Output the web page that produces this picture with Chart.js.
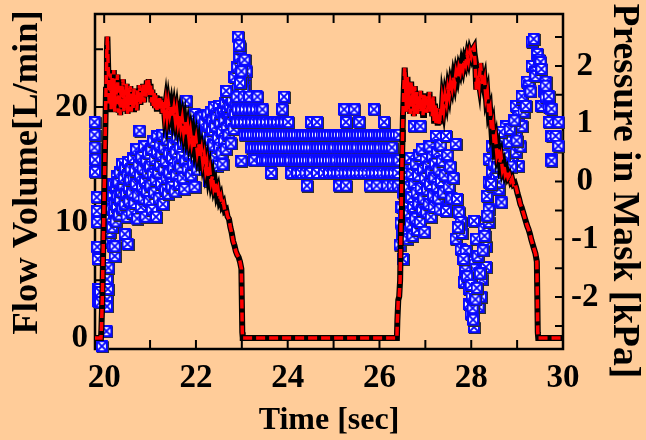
<!DOCTYPE html>
<html>
<head>
<meta charset="utf-8">
<script src="https://cdn.jsdelivr.net/npm/chart.js@4.4.1/dist/chart.umd.min.js"></script>
<style>
  html, body { margin: 0; padding: 0; background: #FFCC99; }
  canvas { display: block; }
</style>
</head>
<body>
<canvas id="chart" width="646" height="440"></canvas>
<script>
// flow volume trace [time s, L/min]
const flowSamples = [
  [19.80,0],[19.93,0],[19.94,0.8],[19.96,3.5],[19.98,8],[20.00,12.5],[20.02,17],[20.04,21.5],[20.06,25],[20.07,26.1],
  [20.09,23],[20.11,20.2],[20.13,22.9],[20.15,19.8],[20.17,22.5],[20.19,20.1],[20.21,23.2],[20.23,19.6],[20.25,22.1],[20.27,20.4],
  [20.29,22.8],[20.31,19.5],[20.33,21.7],[20.35,19.3],[20.37,21.9],[20.39,20.2],[20.41,22.4],[20.43,19.6],[20.45,21.5],[20.47,19.9],
  [20.49,22],[20.51,19.4],[20.53,21.3],[20.55,20],[20.57,21.8],[20.59,19.6],[20.61,21.1],[20.63,19.8],[20.65,21.6],[20.67,20.1],
  [20.69,21.2],[20.71,19.7],[20.73,21.5],[20.75,20.3],[20.77,21.9],[20.79,20.2],[20.81,21.4],[20.83,20.5],[20.85,22],[20.87,20.4],
  [20.89,21.8],[20.91,20.9],[20.93,22.3],[20.95,21.2],[20.97,22.4],[20.99,21],[21.01,22],[21.03,20.4],[21.05,21.5],[21.07,20.1],
  [21.09,21.2],[21.11,19.9],[21.13,21],[21.15,19.6],[21.17,20.8],[21.19,19.8],[21.21,20.9],[21.23,19.7],[21.25,20.6],[21.27,19.4],
  [21.29,20.5],[21.31,19.5],[21.34,20.4],[21.37,19.2],[21.40,20.3],[21.43,19.4],[21.46,20.1],[21.49,19.1],[21.52,19.9],[21.55,18.9],
  [21.58,19.7],[21.61,18.6],[21.64,19.3],[21.67,18.3],[21.70,19],[21.73,17.9],[21.76,18.7],[21.79,17.6],[21.82,18.3],[21.85,17.2],
  [21.88,17.9],[21.91,16.9],[21.94,17.6],[21.97,16.5],[22.00,17.2],[22.03,16.1],[22.06,16.8],[22.09,15.7],[22.12,16.3],[22.15,15.2],
  [22.18,15.8],[22.21,14.6],[22.24,15.2],[22.27,14],[22.30,14.6],[22.33,13.5],[22.36,14],[22.39,13],[22.42,13.4],[22.45,12.5],
  [22.48,12.9],[22.51,12],[22.54,12.3],[22.57,11.5],[22.60,11.7],[22.63,11],[22.66,11.1],[22.69,10.5],[22.72,10.3],[22.75,9.6],
  [22.78,9.1],[22.81,8.4],[22.84,8],[22.87,7.5],[22.90,7.2],[22.93,7],[22.96,6.6],[22.99,6],[23.01,0.5],[23.02,0],
  [26.38,0],[26.39,1.5],[26.41,3.3],[26.43,3.6],[26.45,5],[26.47,10],[26.49,15],[26.51,19],[26.53,21.5],[26.55,23.4],
  [26.57,21.8],[26.59,19.6],[26.61,22.6],[26.63,19.8],[26.65,21.9],[26.67,19.4],[26.69,22.2],[26.71,20],[26.73,21.5],[26.75,19.2],
  [26.77,21.8],[26.79,19.7],[26.81,21.3],[26.83,19.4],[26.85,20.9],[26.87,19.8],[26.89,21.4],[26.91,19.6],[26.93,20.8],[26.95,19.3],
  [26.97,21.2],[26.99,19.9],[27.01,21],[27.03,19.5],[27.05,20.7],[27.07,19.8],[27.09,21.3],[27.11,19.6],[27.13,20.6],[27.15,19.2],
  [27.17,20.9],[27.19,18.8],[27.21,20.3],[27.23,18.6],[27.25,19.9],[27.27,18.4],[27.29,19.5],[27.31,18.5],[27.33,19.9],[27.35,19.3],
  [27.37,20.6],[27.40,19.8],[27.43,21],[27.46,20.4],[27.49,21.6],[27.52,21],[27.55,22.1],[27.58,21.6],[27.61,22.6],[27.64,22],
  [27.67,23],[27.70,22.5],[27.73,23.4],[27.76,23],[27.79,23.8],[27.82,23.3],[27.85,24.1],[27.88,23.7],[27.91,24.5],[27.94,24],
  [27.97,24.8],[28.00,24.4],[28.03,25],[28.06,25.2],[28.09,23.5],[28.11,21.5],[28.14,22.8],[28.17,22],[28.20,23.8],[28.23,22.5],
  [28.26,21.9],[28.29,22.4],[28.32,20.8],[28.35,21.3],[28.38,19.5],[28.41,19.9],[28.44,18],[28.47,18.5],[28.50,16.8],[28.53,17.3],
  [28.56,15.9],[28.59,16.4],[28.62,15.2],[28.65,15.7],[28.68,14.6],[28.71,15],[28.74,14.2],[28.77,14.5],[28.80,13.9],[28.83,14.1],
  [28.86,13.6],[28.89,13.8],[28.92,13.3],[28.95,13.4],[28.98,13],[29.01,12.5],[29.04,12.1],[29.07,11.6],[29.10,11.3],[29.13,10.9],
  [29.16,10.5],[29.19,10.1],[29.22,9.7],[29.25,9.4],[29.28,9],[29.31,8.5],[29.34,8.1],[29.37,7.7],[29.40,7.3],[29.43,6.6],
  [29.45,0.5],[29.46,0],[30.00,0]
];

// mask pressure samples [time s, kPa]
const startColumn = [
  [19.80,1.02],[19.80,0.80],[19.80,0.58],[19.81,0.37],[19.81,0.16],[19.85,-0.28],[19.85,-0.52],[19.86,-0.71],
  [19.86,-1.14],[19.87,-1.35],[19.88,-1.87],[19.88,-2.08],[19.92,-1.92],[19.92,-2.10],[19.96,-2.86],[20.05,-1.45],
  [20.06,-2.60],[20.07,-1.70],[20.07,-2.05],[20.07,-2.17],[20.09,-1.87],[20.10,-1.50],[20.12,-1.05],[20.13,-0.88],
  [20.20,-1.13],[20.24,-1.30],[20.46,-0.92],[20.52,-1.09],[20.24,-1.13]
];
const riseCloud = [
  [20.12,-0.35],[20.14,-0.62],[20.15,-0.15],[20.17,-0.48],[20.18,-0.80],[20.20,-0.25],[20.21,-0.05],[20.23,-0.55],
  [20.24,-0.38],[20.26,-0.70],[20.27,-0.12],[20.28,0.08],[20.29,-0.45],[20.30,-0.26],[20.32,-0.02],[20.33,-0.58],
  [20.35,0.15],[20.36,-0.33],[20.38,-0.18],[20.40,0.30],[20.41,-0.48],[20.43,-0.08],[20.44,0.05],[20.46,-0.40],
  [20.47,0.22],[20.49,-0.22],[20.50,-0.62],[20.52,0.10],[20.53,0.33],[20.55,-0.12],[20.56,-0.35],[20.58,0.02],
  [20.59,0.20],[20.61,-0.55],[20.62,-0.20],[20.64,0.40],[20.65,0.05],[20.67,-0.38],[20.68,0.18],[20.70,-0.05],
  [20.71,0.55],[20.73,-0.65],[20.74,-0.25],[20.76,0.28],[20.78,0.87],[20.79,0.10],[20.81,-0.45],[20.82,0.42],
  [20.84,-0.10],[20.85,0.22],[20.87,-0.30],[20.88,0.60],[20.90,0.00],[20.91,-0.62],[20.93,0.35],[20.94,-0.18],
  [20.96,0.15],[20.97,0.48],[20.99,-0.35],[21.01,0.25],[21.02,-0.08],[21.04,0.55],[21.05,-0.50],[21.07,0.12],
  [21.08,0.70],[21.10,-0.20],[21.11,0.38],[21.13,0.02],[21.14,-0.62],[21.16,0.50],[21.17,0.78],[21.19,0.15],
  [21.20,-0.30],[21.22,0.62],[21.23,0.28],[21.25,-0.05],[21.26,0.45],[21.28,0.80],[21.29,-0.40],[21.31,0.20],
  [21.32,0.58],[21.34,-0.15],[21.35,0.35],[21.37,0.05],[21.38,0.72],[21.40,-0.22],[21.42,0.48],[21.43,0.15],
  [21.45,0.85],[21.46,-0.05],[21.48,-0.10],[21.49,0.40],[21.51,0.62],[21.52,0.22],[21.54,0.92],[21.55,-0.18],
  [21.57,0.50],[21.58,0.10],[21.60,0.75],[21.61,0.32],[21.63,0.95],[21.64,-0.05],[21.66,0.58],[21.67,0.25],
  [21.69,0.82],[21.70,0.42],[21.72,0.05],[21.73,0.65],[21.75,0.90],[21.76,-0.14],[21.78,0.35],[21.80,1.39],
  [21.81,0.60],[21.83,0.20],[21.84,0.85],[21.86,1.02],[21.87,0.45],[21.89,0.70],[21.90,0.10],[21.92,0.95],
  [21.93,0.55],[21.95,0.30],[21.96,0.80],[21.98,1.16],[21.98,-0.10],[22.00,0.65],[22.01,0.40],[22.03,0.98],
  [22.04,0.20],[22.06,0.75],[22.07,1.05],[22.09,0.52],[22.10,0.85],[22.12,0.30],[22.13,1.10],[22.15,0.68],
  [22.16,0.45],[22.18,0.92],[22.20,1.02],[22.21,0.60],[22.23,0.35],[22.24,0.82],[22.26,1.15],[22.27,0.55],
  [22.29,0.95],[22.30,0.00],[22.31,0.72],[22.33,1.20],[22.34,0.45],[22.36,0.88],[22.37,1.05],[22.39,0.62],
  [22.40,1.28],[22.42,0.40],[22.43,0.95],[22.45,1.12],[22.46,1.10],[22.48,0.26],[22.49,0.75],[22.51,1.30],
  [22.52,0.58],[22.54,1.00],[22.55,1.18],[22.57,0.48],[22.58,0.85],[22.59,0.29],[22.60,1.25],[22.62,0.70],
  [22.63,1.05],[22.65,1.35],[22.66,0.55],[22.68,0.92],[22.69,1.20],[22.71,1.45],[22.72,0.80],[22.74,1.10],
  [22.75,1.30],[22.77,0.65],[22.78,1.02],[22.80,1.40],[22.81,1.22],[22.83,0.90],[22.84,1.55],[22.86,1.15],
  [22.88,1.35],[22.90,1.02],[22.92,1.62],[22.95,1.25],[22.98,1.50],[23.00,0.35]
];
const endSpike = [
  [22.67,1.56],[22.85,1.80],[22.91,1.98],[22.93,2.50],[22.96,2.15],[22.98,2.30],[23.03,2.02],[23.07,2.10],
  [23.07,1.68],[23.09,1.85],[23.11,1.90],[23.11,1.02],[23.17,1.25],[23.33,1.47],[23.39,1.25],[23.46,1.02],
  [23.02,1.75],[23.05,1.45],[22.95,2.35],[23.00,1.90],[23.04,1.58],[22.97,1.70],[23.13,1.35]
];
// plateau: quantised pressure levels and the times at which each level was sampled
const bandLevels = [1.46, 1.24, 1.02, 0.80, 0.58, 0.36, 0.14, -0.08];
const bandTimes = [
  [22.90,23.05,23.17,23.35,23.93],
  [22.92,23.00,23.08,23.16,23.24,23.32,23.40,23.46,23.89,25.24,25.46,25.89],
  [22.90,22.98,23.06,23.14,23.22,23.30,23.38,23.46,23.54,23.62,23.70,23.78,23.86,23.94,24.02,24.52,24.65,25.28,25.57,26.11],
  [23.07,23.13,23.19,23.25,23.31,23.37,23.43,23.49,23.55,23.61,23.67,23.73,23.79,23.85,23.91,23.97,24.03,24.09,24.15,
   24.21,24.27,24.33,24.39,24.45,24.51,24.57,24.63,24.69,24.75,24.81,24.87,24.93,24.99,25.05,25.11,25.17,25.23,25.29,
   25.35,25.41,25.47,25.53,25.59,25.65,25.71,25.77,25.83,25.89,25.95,26.01,26.07,26.13,26.19,26.25,26.31,26.37,26.43],
  [23.22,23.28,23.35,23.41,23.47,23.53,23.60,23.66,23.72,23.78,23.85,23.91,23.97,24.03,24.10,24.16,24.22,24.28,24.35,
   24.41,24.47,24.53,24.60,24.66,24.72,24.78,24.85,24.91,24.97,25.03,25.10,25.16,25.22,25.28,25.35,25.41,25.47,25.53,
   25.60,25.66,25.72,25.78,25.85,25.91,25.97,26.03,26.10,26.16,26.22,26.28],
  [23.28,23.45,23.51,23.57,23.64,23.70,23.76,23.82,23.89,23.95,24.01,24.07,24.14,24.20,24.26,24.32,24.39,24.45,24.51,
   24.57,24.64,24.70,24.76,24.82,24.89,24.95,25.01,25.07,25.14,25.20,25.26,25.32,25.39,25.45,25.51,25.57,25.64,25.70,
   25.76,25.82,25.89,25.95,26.01,26.07,26.14,26.20,26.26,26.32,26.39,26.43],
  [23.65,24.09,24.22,24.30,24.40,24.50,24.65,24.80,24.91,25.00,25.08,25.16,25.25,25.33,25.42,25.50,25.58,25.67,25.75,
   25.84,25.92,26.00,26.08,26.17,26.25,26.33,26.41],
  [24.43,25.13,25.28,25.80,25.95,26.18,26.30,26.41]
];
const secondCloud = [
  [26.45,-1.10],[26.47,-0.72],[26.49,-0.45],[26.50,-0.90],[26.52,-1.35],[26.53,-0.20],[26.55,-0.60],[26.56,0.05],
  [26.58,-0.85],[26.59,-0.35],[26.61,0.25],[26.62,-1.00],[26.64,-0.55],[26.65,-0.10],[26.67,0.40],[26.68,-0.75],
  [26.70,-0.28],[26.71,0.12],[26.73,-0.95],[26.74,-0.45],[26.76,0.95],[26.77,-0.05],[26.79,-0.65],[26.80,0.30],
  [26.82,-0.20],[26.83,-0.85],[26.85,0.10],[26.86,-0.40],[26.88,0.45],[26.89,-0.71],[26.90,0.95],[26.91,-0.12],
  [26.93,0.55],[26.94,-0.50],[26.96,0.20],[26.97,-0.30],[26.99,-0.88],[27.00,0.05],[27.02,0.38],[27.03,-0.54],
  [27.05,-0.15],[27.07,0.25],[27.08,-0.40],[27.10,0.60],[27.11,-0.05],[27.13,-0.62],[27.14,0.15],[27.16,0.42],
  [27.18,-0.25],[27.19,-0.45],[27.21,0.05],[27.22,0.30],[27.24,0.78],[27.26,-0.10],[27.27,0.50],[27.29,-0.30],
  [27.30,0.20],[27.32,-0.49],[27.34,0.62],[27.35,0.00],[27.37,0.35],[27.40,-0.20],[27.43,0.10],[27.46,0.78],
  [27.46,-0.52],[27.49,0.45],[27.52,-0.10],[27.55,0.25],[27.58,-0.30],[27.62,0.05],[27.67,0.64]
];
const dipV = [
  [27.67,-1.00],[27.70,-0.31],[27.74,-0.54],[27.78,-0.71],[27.78,-1.18],[27.85,-1.75],[27.89,-1.21],[27.96,-1.40],
  [27.96,-1.87],[27.96,-2.13],[28.00,-2.30],[28.02,-1.99],[28.07,-1.53],[28.07,-2.53],[28.11,-1.00],[28.07,-0.69],
  [28.17,-2.18],[28.22,-2.00],[28.24,-1.70],[28.28,-0.83],[28.33,-1.49],[28.33,-1.13],[28.35,-0.26],[28.39,-0.71],
  [28.39,-0.49],[28.39,-0.02],[28.46,-0.09],[28.61,-0.14],[28.67,-0.37],[27.80,-0.90],[27.88,-1.55],[27.92,-1.65],
  [28.00,-1.80],[28.04,-2.20],[28.10,-2.05],[28.13,-1.85],[28.15,-1.30],[28.20,-1.60],[28.26,-1.20],[28.30,-0.95],
  [28.36,-0.60],[27.72,-0.80],[27.84,-1.35],[28.05,-2.40]
];
const lastRise = [
  [28.39,0.38],[28.46,0.61],[28.46,0.16],[28.50,0.30],[28.55,0.05],[28.61,0.73],[28.61,-0.02],[28.67,0.38],
  [28.70,0.15],[28.76,0.95],[28.76,0.16],[28.80,0.55],[28.83,0.68],[28.90,0.40],[28.98,0.78],[28.98,0.50],
  [28.98,1.30],[29.04,0.26],[29.04,1.13],[29.08,0.60],[29.11,0.95],[29.11,1.42],[29.11,1.47],[29.15,1.20],
  [29.20,1.30],[29.22,1.72],[29.26,1.65],[29.30,1.55],[29.33,1.99],[29.33,2.41],[29.37,2.46],[29.41,1.89],
  [29.41,1.82],[29.45,2.20],[29.48,2.10],[29.52,2.06],[29.54,1.94],[29.54,1.30],[29.60,1.55],[29.63,1.72],
  [29.63,1.65],[29.63,1.45],[29.70,1.47],[29.70,1.28],[29.70,1.02],[29.76,1.25],[29.76,0.78],[29.76,0.38],
  [29.76,0.35],[29.85,0.78],[29.91,1.02],[29.91,0.61],[28.55,0.50],[28.65,0.85],[28.72,0.45],[28.85,0.90],
  [28.88,0.25],[28.95,1.05],[29.00,0.70],[28.58,0.25],[28.44,-0.05]
];

const xTicks = [20, 22, 24, 26, 28, 30];
const flowTicks = [0, 10, 20];
const pressureTicks = [-2, -1, 0, 1, 2];

const serif = "'Liberation Serif', 'Times New Roman', serif";
Chart.defaults.font.family = serif;
Chart.defaults.color = '#000';

// square marker with a cross, like the original plot symbol
function crossBox() {
  const c = document.createElement('canvas');
  c.width = 13; c.height = 13;
  const g = c.getContext('2d');
  g.fillStyle = '#2e2e2e';
  g.fillRect(1, 1, 12, 12);
  g.fillStyle = '#0a0aff';
  g.fillRect(0, 0, 12, 12);
  g.fillStyle = '#fff';
  g.fillRect(2, 2, 8, 8);
  g.strokeStyle = '#0a0aff';
  g.lineWidth = 1.8;
  g.beginPath();
  g.moveTo(2, 2); g.lineTo(10, 10);
  g.moveTo(10, 2); g.lineTo(2, 10);
  g.stroke();
  return c;
}

const pairs = a => a.map(p => ({ x: p[0], y: p[1] }));
const bandPoints = bandTimes.flatMap((ts, i) => ts.map(t => ({ x: t, y: bandLevels[i] })));
const pressurePoints = [].concat(
  pairs(startColumn), pairs(riseCloud), pairs(endSpike), bandPoints,
  pairs(secondCloud), pairs(dipV), pairs(lastRise)
);
const flowPoints = pairs(flowSamples);

const onStep = (v, step) => Math.abs(v / step - Math.round(v / step)) < 1e-6;

// box around the plot with inward tick marks
const frame = {
  id: 'frame',
  beforeDatasetsDraw(chart) {
    const { ctx, chartArea: a, scales } = chart;
    ctx.save();
    ctx.strokeStyle = '#000';
    ctx.lineWidth = 2.5;
    ctx.strokeRect(a.left, a.top, a.right - a.left, a.bottom - a.top);
    ctx.lineWidth = 2;
    ctx.beginPath();
    scales.x.ticks.forEach(t => {
      if (!onStep(t.value, 1)) return;
      const p = scales.x.getPixelForValue(t.value);
      ctx.moveTo(p, a.bottom); ctx.lineTo(p, a.bottom - 9);
      ctx.moveTo(p, a.top); ctx.lineTo(p, a.top + 9);
    });
    scales.yF.ticks.forEach(t => {
      if (!onStep(t.value, 5)) return;
      const p = scales.yF.getPixelForValue(t.value);
      ctx.moveTo(a.left, p); ctx.lineTo(a.left + 8, p);
    });
    scales.yP.ticks.forEach(t => {
      if (!onStep(t.value, 0.5)) return;
      const p = scales.yP.getPixelForValue(t.value);
      ctx.moveTo(a.right, p); ctx.lineTo(a.right - 8, p);
    });
    ctx.stroke();
    ctx.restore();
  }
};

const tickFont = { family: serif, size: 33, weight: 'bold' };
const noPad = s => { s.paddingTop = 0; s.paddingBottom = 0; s.paddingLeft = 0; s.paddingRight = 0; };

new Chart(document.getElementById('chart'), {
  type: 'scatter',
  data: {
    datasets: [
      {
        label: 'Flow',
        data: flowPoints,
        yAxisID: 'yF',
        showLine: true,
        borderColor: '#ff0000',
        borderWidth: 3.5,
        borderDash: [9, 4],
        pointRadius: 0,
        order: 0
      },
      {
        label: 'Flow outline',
        data: flowPoints,
        yAxisID: 'yF',
        showLine: true,
        borderColor: '#000',
        borderWidth: 6,
        pointRadius: 0,
        order: 1
      },
      {
        label: 'Pressure',
        data: pressurePoints,
        yAxisID: 'yP',
        pointStyle: crossBox(),
        pointRadius: 6,
        clip: 12,
        order: 2
      }
    ]
  },
  options: {
    responsive: false,
    devicePixelRatio: 1,
    animation: false,
    layout: { padding: { top: 14, left: 0, right: 0, bottom: 0 } },
    plugins: { legend: { display: false }, tooltip: { enabled: false } },
    scales: {
      x: {
        type: 'linear',
        min: 19.8,
        max: 30,
        grid: { display: false, drawTicks: false },
        border: { display: false },
        ticks: {
          stepSize: 1,
          includeBounds: false,
          autoSkip: false,
          maxRotation: 0,
          padding: 10,
          font: tickFont,
          callback: v => xTicks.includes(v) ? String(v) : ''
        },
        title: { display: true, text: 'Time [sec]', font: { family: serif, size: 32, weight: 'bold' }, padding: { top: 0, bottom: 0 } },
        afterFit: s => { s.height = 91; noPad(s); }
      },
      yF: {
        type: 'linear',
        position: 'left',
        min: -0.95,
        max: 28.05,
        grid: { display: false, drawTicks: false },
        border: { display: false },
        ticks: {
          stepSize: 5,
          includeBounds: false,
          autoSkip: false,
          padding: 7,
          font: tickFont,
          callback: v => flowTicks.includes(v) ? String(v) : ''
        },
        title: { display: true, text: '\u2002Flow Volume[L/min]', font: { family: serif, size: 36.5, weight: 'bold' }, padding: { top: 6, bottom: 0 } },
        afterFit: s => { s.width = 95; noPad(s); }
      },
      yP: {
        type: 'linear',
        position: 'right',
        min: -2.9,
        max: 2.9,
        grid: { display: false, drawTicks: false },
        border: { display: false },
        ticks: {
          stepSize: 0.5,
          includeBounds: false,
          autoSkip: false,
          padding: 8,
          crossAlign: 'center',
          font: tickFont,
          callback: v => pressureTicks.includes(v) ? String(v) : ''
        },
        title: { display: true, text: '\u2002Pressure in Mask [kPa]', font: { family: serif, size: 37.5, weight: 'bold' }, padding: { top: 0, bottom: 0 } },
        afterFit: s => { s.width = 83; noPad(s); }
      }
    }
  },
  plugins: [frame]
});
</script>
</body>
</html>
